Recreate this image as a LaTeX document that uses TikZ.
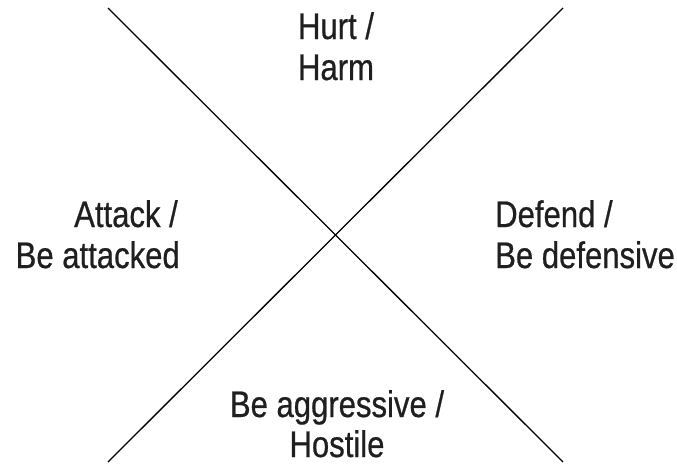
\documentclass[tikz,border=0pt]{standalone}
\usepackage{fontspec}
\setmainfont{Liberation Sans}[FakeStretch=0.84,FakeBold=0.6]
\begin{document}
\begin{tikzpicture}[x=1pt,y=-1pt,
  lbl/.style={inner sep=0pt,font=\fontsize{37}{41}\selectfont,text=black!88},
  axis/.style={line width=1.3pt,black}]
\useasboundingbox (0,0) rectangle (677,463);
\coordinate (tl) at (108,8);
\coordinate (br) at (563,462);
\coordinate (tr) at (563,8);
\coordinate (bl) at (108,462);
\draw[axis] (tl) -- (br);
\draw[axis] (tr) -- (bl);
\node[lbl,anchor=base] (h1) at (336,39) {Hurt /};
\node[lbl,anchor=base] (h2) at (336,80) {Harm};
\node[lbl,anchor=base east] (a1) at (178,227) {Attack /};
\node[lbl,anchor=base east] (a2) at (180,268) {Be attacked};
\node[lbl,anchor=base west] (d1) at (495,227) {Defend /};
\node[lbl,anchor=base west] (d2) at (495,268) {Be defensive};
\node[lbl,anchor=base] (g1) at (337,417) {Be aggressive /};
\node[lbl,anchor=base,text depth=0pt] (g2) at (337,457) {Hostile};
\end{tikzpicture}
\end{document}
